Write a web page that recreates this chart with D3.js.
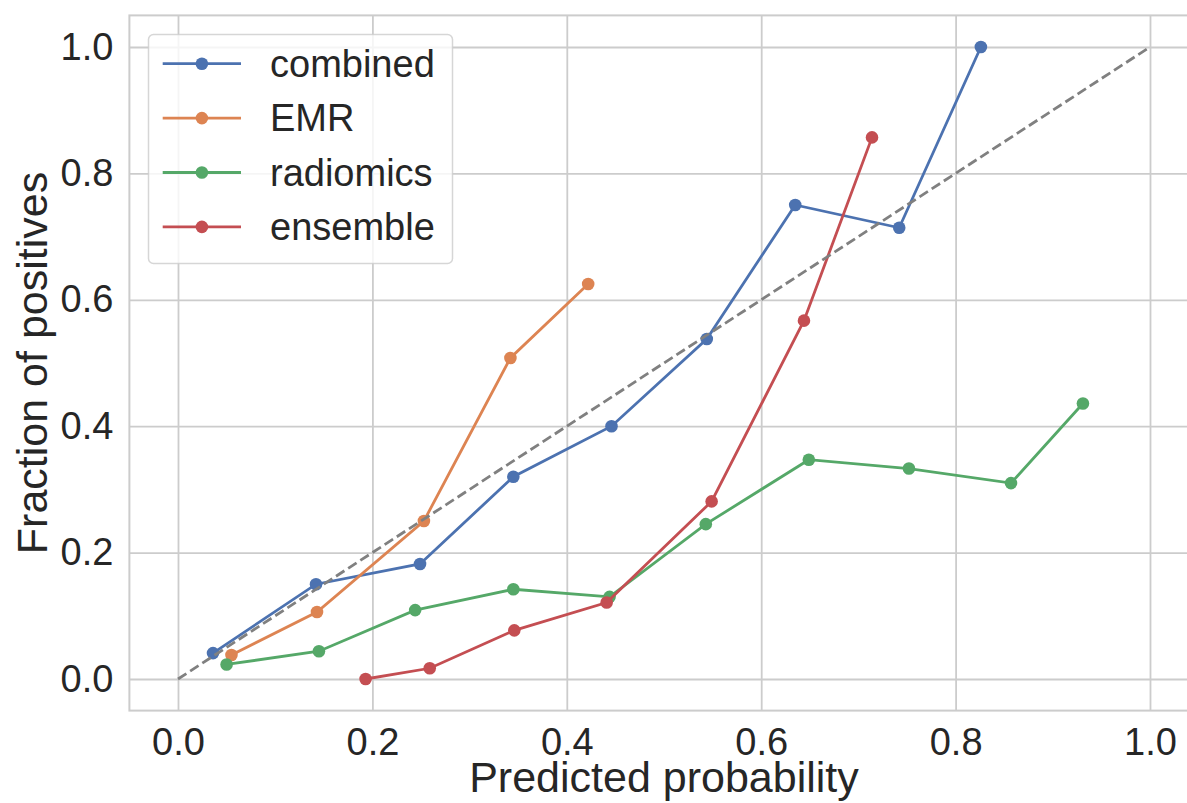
<!DOCTYPE html>
<html lang="en">

  <head>
    <meta charset="UTF-8">
    <title>Calibration curves</title>
    <style>
      body {
        margin: 0;
        background: white;
      }

      text {
        font-family: "Liberation Sans", Arial, sans-serif;
        fill: #262626;
      }
    </style>
  </head>

  <body>
    <div id="chart"></div>
    <script src="https://d3js.org/d3.v7.min.js"></script>
    <script>

      // data (mean predicted probability / fraction of positives)
      var seriesNames = ["combined", "EMR", "radiomics", "ensemble"];
      var seriesColors = ["#4C72B0", "#DD8452", "#55A868", "#C44E52"];

      var combinedX = [0.036, 0.142, 0.249, 0.345, 0.446, 0.544, 0.635, 0.742, 0.826];
      var combinedY = [0.041, 0.150, 0.182, 0.320, 0.400, 0.538, 0.750, 0.714, 1.000];

      var emrX = [0.055, 0.143, 0.253, 0.342, 0.422];
      var emrY = [0.038, 0.106, 0.250, 0.508, 0.625];

      var radiomicsX = [0.050, 0.145, 0.244, 0.345, 0.444, 0.543, 0.649, 0.752, 0.857, 0.931];
      var radiomicsY = [0.023, 0.044, 0.109, 0.142, 0.130, 0.245, 0.347, 0.333, 0.310, 0.436];

      var ensembleX = [0.193, 0.259, 0.346, 0.441, 0.549, 0.644, 0.714];
      var ensembleY = [0.000, 0.017, 0.077, 0.121, 0.281, 0.567, 0.857];

      var tickValues = [0, 0.2, 0.4, 0.6, 0.8, 1.0];
      var diagonal = [[0, 0], [1, 1]];

      var seriesX = [combinedX, emrX, radiomicsX, ensembleX];
      var seriesY = [combinedY, emrY, radiomicsY, ensembleY];

      // set the dimensions (plot box in pixels)
      var W = 1187, H = 803;
      var plotL = 129.4, plotR = 1198.6, plotT = 15.4, plotB = 710.6;

      var svg = d3.select("#chart")
        .append("svg")
        .attr("width", W)
        .attr("height", H);

      var x = d3.scaleLinear().domain([-0.05, 1.05]).range([plotL, plotR]);
      var y = d3.scaleLinear().domain([-0.05, 1.05]).range([plotB, plotT]);

      // grid
      svg.append("g")
        .attr("transform", "translate(0," + plotB + ")")
        .call(d3.axisBottom(x).tickValues(tickValues).tickSize(-(plotB - plotT)).tickFormat(""))
        .call(function (g) { g.select(".domain").remove(); })
        .selectAll("line")
        .attr("stroke", "#cccccc")
        .attr("stroke-width", 1.8);

      svg.append("g")
        .attr("transform", "translate(" + plotL + ",0)")
        .call(d3.axisLeft(y).tickValues(tickValues).tickSize(-(plotR - plotL)).tickFormat(""))
        .call(function (g) { g.select(".domain").remove(); })
        .selectAll("line")
        .attr("stroke", "#cccccc")
        .attr("stroke-width", 1.8);

      // frame
      svg.append("rect")
        .attr("x", plotL)
        .attr("y", plotT)
        .attr("width", plotR - plotL)
        .attr("height", plotB - plotT)
        .attr("fill", "none")
        .attr("stroke", "#cccccc")
        .attr("stroke-width", 2);

      // tick labels
      var xAxis = svg.append("g")
        .attr("transform", "translate(0," + plotB + ")")
        .call(d3.axisBottom(x).tickValues(tickValues).tickSize(0).tickPadding(17).tickFormat(d3.format(".1f")));
      xAxis.select(".domain").remove();
      xAxis.selectAll("text")
        .style("font-size", "38px")
        .style("font-family", "'Liberation Sans', Arial, sans-serif")
        .attr("fill", "#262626");

      var yAxis = svg.append("g")
        .attr("transform", "translate(" + plotL + ",0)")
        .call(d3.axisLeft(y).tickValues(tickValues).tickSize(0).tickPadding(16).tickFormat(d3.format(".1f")));
      yAxis.select(".domain").remove();
      yAxis.selectAll("text")
        .style("font-size", "38px")
        .style("font-family", "'Liberation Sans', Arial, sans-serif")
        .attr("fill", "#262626");

      // axis labels
      svg.append("text")
        .attr("x", (plotL + plotR) / 2)
        .attr("y", 792)
        .style("text-anchor", "middle")
        .style("font-size", "43px")
        .text("Predicted probability");

      svg.append("text")
        .attr("transform", "translate(47," + ((plotT + plotB) / 2) + ") rotate(-90)")
        .style("text-anchor", "middle")
        .style("font-size", "43px")
        .text("Fraction of positives");

      // series
      var line = d3.line()
        .x(function (d) { return x(d[0]); })
        .y(function (d) { return y(d[1]); });

      seriesNames.forEach(function (name, i) {
        var pts = seriesX[i].map(function (v, j) { return [v, seriesY[i][j]]; });
        var g = svg.append("g");
        g.append("path")
          .datum(pts)
          .attr("d", line)
          .attr("fill", "none")
          .attr("stroke", seriesColors[i])
          .attr("stroke-width", 2.8);
        g.selectAll("circle")
          .data(pts)
          .enter()
          .append("circle")
          .attr("cx", function (d) { return x(d[0]); })
          .attr("cy", function (d) { return y(d[1]); })
          .attr("r", 6.3)
          .attr("fill", seriesColors[i]);
      });

      // perfectly calibrated reference
      svg.append("path")
        .datum(diagonal)
        .attr("d", line)
        .attr("fill", "none")
        .attr("stroke", "#808080")
        .attr("stroke-width", 2.8)
        .attr("stroke-dasharray", "10,4.5");

      // legend
      var legend = svg.append("g");
      legend.append("rect")
        .attr("x", 148.5)
        .attr("y", 34.5)
        .attr("width", 304)
        .attr("height", 229)
        .attr("rx", 5)
        .attr("fill", "white")
        .attr("fill-opacity", 0.8)
        .attr("stroke", "#cccccc")
        .attr("stroke-opacity", 0.8)
        .attr("stroke-width", 1.5);

      seriesNames.forEach(function (name, i) {
        var cy = 63.7 + i * 54.4;
        legend.append("line")
          .attr("x1", 162.7)
          .attr("x2", 241)
          .attr("y1", cy)
          .attr("y2", cy)
          .attr("stroke", seriesColors[i])
          .attr("stroke-width", 2.8);
        legend.append("circle")
          .attr("cx", 201.9)
          .attr("cy", cy)
          .attr("r", 6.3)
          .attr("fill", seriesColors[i]);
        legend.append("text")
          .attr("x", 270)
          .attr("y", cy + 13)
          .style("font-size", "38px")
          .text(name);
      });

    </script>
  </body>

</html>
